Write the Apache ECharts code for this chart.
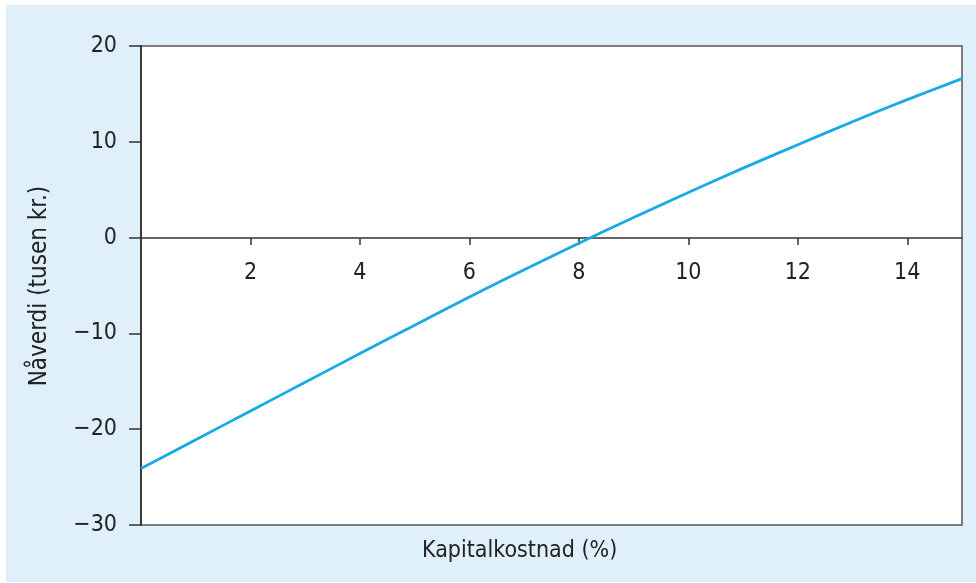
<!DOCTYPE html>
<html>
<head>
<meta charset="utf-8">
<script src="https://cdn.jsdelivr.net/npm/echarts@6/dist/echarts.min.js"></script>
<style>
  html, body { margin: 0; padding: 0; background: #ffffff; }
  #bakgrunn { position: absolute; left: 6px; top: 5px; width: 970px; height: 577px; background: #dff0fa; }
  #diagram { position: absolute; left: 0; top: 0; width: 976px; height: 583px; }
</style>
</head>
<body>
<div id="bakgrunn"></div>
<div id="diagram"></div>
<script>
// Kapitalkostnad (%) og nåverdi (tusen kr.)
const rente = [0, 1, 2, 3, 4, 5, 6, 7, 8, 9, 10, 11, 12, 13, 14, 15];
const naverdi = [-24.1, -21.1, -18.1, -15.1, -12.1, -9.15, -6.2, -3.35, -0.6, 2.1, 4.7, 7.25, 9.7, 12.1, 14.4, 16.6];
const xTikk = [2, 4, 6, 8, 10, 12, 14];
const yTikk = [-30, -20, -10, 0, 10, 20];

const fontNavn = '"DejaVu Sans Condensed", "DejaVu Sans", sans-serif';
const tekstFarge = '#222222';
const aksefarge = '#333333';

let chart;

function tegnDiagram() {
  chart = echarts.init(document.getElementById('diagram'), null, { renderer: 'canvas' });

  const option = {
    backgroundColor: 'transparent',
    animation: false,
    grid: {
      left: 141,
      top: 46,
      right: 14,
      bottom: 58,
      show: true,
      backgroundColor: '#ffffff',
      borderColor: '#555555',
      borderWidth: 1.5
    },
    xAxis: {
      type: 'value',
      min: 0,
      max: 15,
      interval: 1,
      position: 'bottom',
      // aksen ligger på null-linjen (y = 0)
      offset: -287,
      axisLine: { show: true, onZero: false, lineStyle: { color: aksefarge, width: 1.5 } },
      axisTick: { show: true, length: 7, customValues: xTikk, lineStyle: { color: aksefarge, width: 1.5 } },
      axisLabel: {
        customValues: xTikk,
        margin: 24,
        fontFamily: fontNavn,
        fontSize: 23,
        color: tekstFarge
      },
      splitLine: { show: false }
    },
    yAxis: {
      type: 'value',
      min: -30,
      max: 20,
      interval: 10,
      axisLine: { show: true, onZero: false, lineStyle: { color: aksefarge, width: 1.8 } },
      axisTick: { show: true, length: 12, customValues: yTikk, lineStyle: { color: aksefarge, width: 1.5 } },
      axisLabel: {
        customValues: yTikk,
        margin: 24,
        fontFamily: fontNavn,
        fontSize: 23,
        color: tekstFarge,
        padding: [3, 0, 0, 0],
        formatter: function(v) {
          return v < 0 ? '\u2212' + Math.abs(v) : String(v);
        }
      },
      splitLine: { show: false }
    },
    graphic: [
      {
        type: 'text',
        left: 422,
        top: 540,
        style: {
          text: 'Kapitalkostnad (%)',
          font: '23px ' + fontNavn,
          fill: tekstFarge
        }
      },
      {
        type: 'text',
        x: 40,
        y: 286,
        rotation: Math.PI / 2,
        style: {
          text: 'Nåverdi (tusen kr.)',
          font: '24px ' + fontNavn,
          fill: tekstFarge,
          align: 'center',
          verticalAlign: 'middle'
        }
      }
    ],
    series: [
      {
        name: 'Nåverdi',
        type: 'line',
        data: rente.map(function(r, i) { return [r, naverdi[i]]; }),
        smooth: 0.3,
        showSymbol: false,
        clip: true,
        lineStyle: { color: '#17aae6', width: 2.8 }
      }
    ]
  };

  chart.setOption(option);
}

document.addEventListener('DOMContentLoaded', function() {
  tegnDiagram();
});
</script>
</body>
</html>
